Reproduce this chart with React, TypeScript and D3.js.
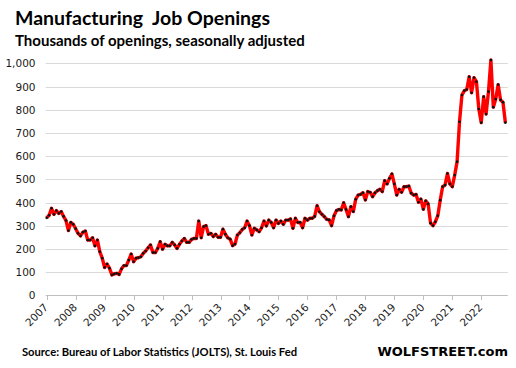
import React, { useEffect, useRef } from "react";
import * as d3 from "d3";

const W = 516;
const H = 368;

const titleText = "Manufacturing  Job Openings";
const subtitleText = "Thousands of openings, seasonally adjusted";
const sourceText = "Source: Bureau of Labor Statistics (JOLTS), St. Louis Fed";
const brandText = "WOLFSTREET.com";

const yearLabels = ["2007", "2008", "2009", "2010", "2011", "2012", "2013", "2014", "2015", "2016", "2017", "2018", "2019", "2020", "2021", "2022"];
const yTicks = [0, 100, 200, 300, 400, 500, 600, 700, 800, 900, 1000];

// Monthly job openings (thousands), Jan 2007 – Nov 2022
const v2007 = [334, 345, 375, 349, 365, 353, 361, 340, 322, 279, 314, 306];
const v2008 = [287, 267, 256, 272, 277, 238, 238, 248, 213, 238, 188, 160];
const v2009 = [120, 135, 117, 88, 92, 95, 90, 114, 128, 128, 152, 178];
const v2010 = [145, 160, 162, 166, 181, 191, 205, 217, 184, 184, 202, 231];
const v2011 = [199, 220, 213, 213, 228, 217, 202, 220, 234, 245, 228, 228];
const v2012 = [241, 245, 245, 320, 248, 296, 300, 263, 267, 253, 263, 250];
const v2013 = [250, 285, 263, 248, 242, 214, 221, 260, 270, 284, 291, 320];
const v2014 = [300, 260, 289, 282, 274, 291, 320, 299, 324, 314, 291, 324];
const v2015 = [310, 320, 306, 324, 324, 329, 289, 332, 314, 314, 291, 332];
const v2016 = [324, 332, 332, 340, 386, 360, 349, 339, 327, 325, 300, 342];
const v2017 = [365, 370, 368, 399, 370, 339, 382, 361, 414, 432, 435, 442];
const v2018 = [411, 447, 444, 425, 442, 451, 457, 447, 494, 480, 504, 523];
const v2019 = [480, 432, 457, 444, 468, 468, 471, 440, 432, 435, 401, 415];
const v2020 = [371, 407, 394, 311, 300, 317, 343, 410, 468, 475, 525, 480];
const v2021 = [468, 518, 576, 748, 863, 882, 887, 942, 873, 938, 921, 803];
const v2022 = [744, 856, 781, 878, 1014, 811, 846, 908, 842, 832, 744];

const series = [
  ...v2007, ...v2008, ...v2009, ...v2010, ...v2011, ...v2012, ...v2013, ...v2014,
  ...v2015, ...v2016, ...v2017, ...v2018, ...v2019, ...v2020, ...v2021, ...v2022,
];

export default function App() {
  const ref = useRef<SVGSVGElement>(null);

  useEffect(() => {
    const svg = d3.select(ref.current);
    svg.selectAll("*").remove();

    const x = d3.scaleLinear().domain([0, 191]).range([46.7, 507.8]);
    const y = d3.scaleLinear().domain([0, 1000]).range([295.3, 63.3]);

    svg.append("rect").attr("width", W).attr("height", H).attr("fill", "#fff");

    // gridlines
    svg.append("g")
      .selectAll("line")
      .data(yTicks.filter((t) => t > 0))
      .join("line")
      .attr("x1", x(0) - 1)
      .attr("x2", x(191))
      .attr("y1", (d) => Math.round(y(d)) + 0.5)
      .attr("y2", (d) => Math.round(y(d)) + 0.5)
      .attr("stroke", "#d9d9d9")
      .attr("stroke-width", 1);

    // x axis
    const axisY = Math.round(y(0)) + 0.5;
    svg.append("line")
      .attr("x1", x(0) - 1).attr("x2", x(191))
      .attr("y1", axisY).attr("y2", axisY)
      .attr("stroke", "#bfbfbf");
    svg.append("g")
      .selectAll("line")
      .data(yearLabels.map((_, i) => i * 12))
      .join("line")
      .attr("x1", (d) => Math.round(x(d)) + 0.5)
      .attr("x2", (d) => Math.round(x(d)) + 0.5)
      .attr("y1", axisY)
      .attr("y2", axisY + 4.5)
      .attr("stroke", "#bfbfbf");

    // y labels
    svg.append("g")
      .selectAll("text")
      .data(yTicks)
      .join("text")
      .attr("x", 35.5)
      .attr("y", (d) => y(d) + 4)
      .attr("text-anchor", "end")
      .attr("font-family", "DejaVu Sans, Verdana, sans-serif")
      .attr("font-size", 10.5)
      .attr("fill", "#1a1a1a")
      .text((d) => d3.format(",")(d));

    // x labels
    svg.append("g")
      .selectAll("text")
      .data(yearLabels)
      .join("text")
      .attr("transform", (_, i) => `translate(${x(i * 12) + 2},${308}) rotate(-45)`)
      .attr("text-anchor", "end")
      .attr("font-family", "DejaVu Sans, Verdana, sans-serif")
      .attr("font-size", 10.5)
      .attr("fill", "#1a1a1a")
      .text((d) => d);

    // line
    const line = d3.line<number>()
      .x((_, i) => x(i))
      .y((d) => y(d))
      .curve(d3.curveLinear);
    svg.append("path")
      .datum(series)
      .attr("d", line)
      .attr("fill", "none")
      .attr("stroke", "#ff0000")
      .attr("stroke-width", 3.4)
      .attr("stroke-linejoin", "round");

    svg.append("g")
      .selectAll("circle")
      .data(series)
      .join("circle")
      .attr("cx", (_, i) => x(i))
      .attr("cy", (d) => y(d))
      .attr("r", 1.35)
      .attr("fill", "#111");

    // titles
    svg.append("text")
      .attr("x", 15).attr("y", 25)
      .attr("font-family", "Lato, sans-serif")
      .attr("font-weight", "bold")
      .attr("font-size", 19.5)
      .attr("fill", "#000")
      .attr("xml:space", "preserve")
      .style("white-space", "pre")
      .text(titleText);
    svg.append("text")
      .attr("x", 15).attr("y", 46)
      .attr("font-family", "Lato, sans-serif")
      .attr("font-weight", "bold")
      .attr("font-size", 15)
      .attr("fill", "#000")
      .text(subtitleText);

    svg.append("text")
      .attr("x", 22).attr("y", 356)
      .attr("font-family", "Lato, sans-serif")
      .attr("font-weight", "bold")
      .attr("font-size", 11.2)
      .attr("fill", "#000")
      .text(sourceText);
    svg.append("text")
      .attr("x", 508).attr("y", 356)
      .attr("text-anchor", "end")
      .attr("font-family", "DejaVu Sans, Verdana, sans-serif")
      .attr("font-weight", "bold")
      .attr("font-size", 13)
      .attr("fill", "#000")
      .text(brandText);
  }, []);

  return (
    <svg
      ref={ref}
      width={W}
      height={H}
      style={{ position: "absolute", left: 0, top: 0, display: "block" }}
    />
  );
}
